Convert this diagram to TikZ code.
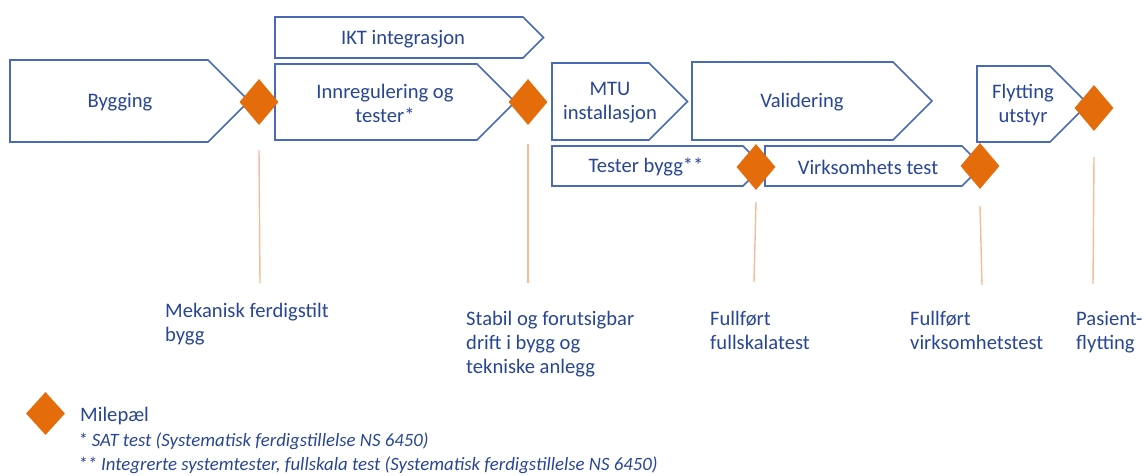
\documentclass[tikz,border=0pt]{standalone}
\usepackage{fontspec}
\setmainfont{Carlito}
\usetikzlibrary{shapes.geometric}
\definecolor{txtblue}{RGB}{40,70,150}
\definecolor{boxblue}{RGB}{72,106,185}
\definecolor{msorange}{RGB}{228,108,10}
\definecolor{lineorange}{RGB}{246,188,150}
\tikzset{
  chev/.style={draw=boxblue, line width=1.6pt, fill=white, line join=miter},
  boxtxt/.style={text=txtblue, font=\fontsize{20.6}{24}\selectfont, align=center, inner sep=0pt},
  lbl/.style={text=txtblue, font=\fontsize{20.6}{24}\selectfont, align=left, inner sep=0pt, anchor=base west},
  note/.style={text=txtblue, font=\fontsize{18.8}{22}\selectfont\itshape, inner sep=0pt, anchor=base west},
  ms/.style={diamond, fill=msorange, minimum width=39pt, minimum height=46pt, inner sep=0pt},
  vline/.style={draw=lineorange, line width=1.4pt}
}
\begin{document}
\begin{tikzpicture}[x=1pt,y=-1pt]
\useasboundingbox (0,0) rectangle (1146,475);
% chevron boxes
\draw[chev] (10,60) -- (208,60) -- (249,101) -- (208,142) -- (10,142) -- cycle;
\node[boxtxt] (bygging) at (120,102) {Bygging};
\draw[chev] (275,17) -- (523,17) -- (543.5,37.5) -- (523,58) -- (275,58) -- cycle;
\node[boxtxt] (ikt) at (403,39) {IKT integrasjon};
\draw[chev] (275,64) -- (477,64) -- (515,102) -- (477,140) -- (275,140) -- cycle;
\node[boxtxt] (innreg) at (385,103) {Innregulering og\\tester*};
\draw[chev] (552,63) -- (649,63) -- (687.5,101.5) -- (649,140) -- (552,140) -- cycle;
\node[boxtxt] (mtu) at (610,103) {MTU\\installasjon};
\draw[chev] (692,62) -- (893,62) -- (932,101) -- (893,140) -- (692,140) -- cycle;
\node[boxtxt] (valid) at (802,102) {Validering};
\draw[chev] (552,146) -- (743,146) -- (763,166) -- (743,186) -- (552,186) -- cycle;
\node[boxtxt] (tester) at (646,167) {Tester bygg**};
\draw[chev] (765,146) -- (962,146) -- (982,166) -- (962,186) -- (765,186) -- cycle;
\node[boxtxt] (virk) at (868,167) {Virksomhets test};
\draw[chev] (977,66) -- (1050,66) -- (1088,104) -- (1050,142) -- (977,142) -- cycle;
\node[boxtxt] (flytt) at (1023,105) {Flytting\\utstyr};
% milestones
\node[ms] (d1) at (259,102) {};
\node[ms] (d2) at (528,102) {};
\node[ms] (d3) at (756,167) {};
\node[ms] (d4) at (980,166) {};
\node[ms] (d5) at (1094,108) {};
% milestone labels (base = last line)
\node[lbl] (l1) at (165,341) {Mekanisk ferdigstilt\\bygg};
\node[lbl] (l2) at (466,373) {Stabil og forutsigbar\\drift i bygg og\\tekniske anlegg};
\node[lbl] (l3) at (710,349) {Fullført\\fullskalatest};
\node[lbl] (l4) at (910,349) {Fullført\\virksomhetstest};
\node[lbl] (l5) at (1076,349) {Pasient-\\flytting};
% vertical lines
\coordinate (e1) at (260,283);
\coordinate (e2) at (528,283);
\coordinate (e3) at (754,282);
\coordinate (e4) at (982,285);
\coordinate (e5) at (1093,284);
\draw[vline] (d1.south |- 0,150) -- (e1);
\draw[vline] (d2.south |- 0,144) -- (e2);
\draw[vline] (d3.south |- 0,202) -- (e3);
\draw[vline] (d4.south |- 0,206) -- (e4);
\draw[vline] (d5.south |- 0,157) -- (e5);
% legend
\node[ms, minimum width=39pt, minimum height=43pt] (leg) at (45.5,413.5) {};
\node[lbl] (legtxt) at (80,421) {Milepæl};
\node[note] (n1) at (78,446) {* SAT test (Systematisk ferdigstillelse NS 6450)};
\node[note] (n2) at (78,470) {** Integrerte systemtester, fullskala test (Systematisk ferdigstillelse NS 6450)};
\end{tikzpicture}
\end{document}
